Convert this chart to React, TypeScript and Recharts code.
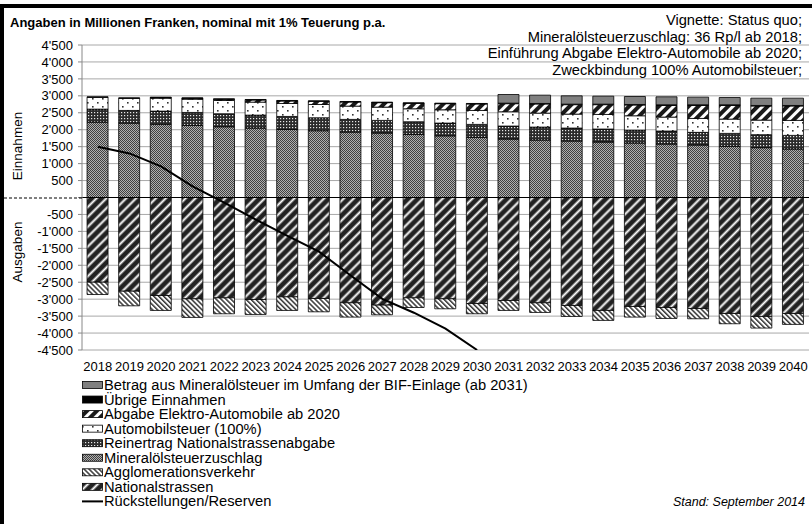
import React from 'react';
import { ComposedChart, Bar, Line, XAxis, YAxis, CartesianGrid, ReferenceLine } from 'recharts';

const years = [
  '2018', '2019', '2020', '2021', '2022', '2023', '2024', '2025', '2026', '2027', '2028', '2029',
  '2030', '2031', '2032', '2033', '2034', '2035', '2036', '2037', '2038', '2039', '2040',
];

// Einnahmen (positive, stacked bottom -> top)
const mineraloelZuschlag = [2225, 2196, 2157, 2127, 2088, 2049, 2010, 1971, 1931, 1902, 1863, 1820, 1775, 1725, 1696, 1667, 1637, 1608, 1578, 1549, 1510, 1471, 1431];
const reinertragNsa = [383, 373, 392, 383, 383, 382, 382, 382, 373, 373, 372, 376, 382, 383, 382, 382, 383, 382, 383, 373, 382, 382, 402];
const automobilsteuer = [348, 357, 382, 391, 391, 383, 383, 392, 392, 392, 383, 392, 412, 421, 412, 412, 431, 422, 412, 411, 422, 431, 442];
const abgabeElektro = [0, 0, 15, 25, 35, 63, 73, 93, 122, 132, 161, 181, 191, 240, 270, 279, 289, 318, 347, 387, 406, 417, 426];
const uebrigeEinnahmen = [15, 15, 15, 15, 15, 15, 15, 15, 15, 15, 15, 15, 15, 15, 15, 15, 15, 15, 15, 15, 15, 15, 15];
const betragBif = [0, 0, 0, 0, 0, 0, 0, 0, 0, 0, 0, 0, 0, 255, 245, 245, 235, 235, 236, 226, 216, 215, 215];

// Ausgaben (negative, stacked from 0 downwards)
const nationalstrassen = [-2500, -2765, -2892, -2990, -2961, -3010, -2931, -2980, -3108, -3176, -2961, -2990, -3127, -3039, -3108, -3186, -3333, -3216, -3245, -3275, -3422, -3510, -3422];
const agglomeration = [-363, -431, -441, -549, -470, -441, -402, -393, -421, -285, -284, -294, -304, -294, -284, -324, -294, -313, -324, -303, -303, -343, -323];

// Rückstellungen/Reserven (line)
const reserven = [1500, 1300, 920, 330, -150, -650, -1130, -1600, -2300, -2990, -3400, -3870, -4500, null, null, null, null, null, null, null, null, null, null];

const yTicks = [-4500, -4000, -3500, -3000, -2500, -2000, -1500, -1000, -500, 0, 500, 1000, 1500, 2000, 2500, 3000, 3500, 4000, 4500];

const data = years.map((year, i) => ({
  year,
  mineraloelZuschlag: mineraloelZuschlag[i],
  reinertragNsa: reinertragNsa[i],
  automobilsteuer: automobilsteuer[i],
  abgabeElektro: abgabeElektro[i],
  uebrigeEinnahmen: uebrigeEinnahmen[i],
  betragBif: betragBif[i],
  nationalstrassen: nationalstrassen[i],
  agglomeration: agglomeration[i],
  reserven: reserven[i],
}));

const FONT = '"Liberation Sans", Arial, sans-serif';

const formatTick = (v: number) => {
  if (v === 0) return '';
  const abs = Math.abs(v);
  const s = abs >= 1000 ? `${Math.floor(abs / 1000)}'${String(abs % 1000).padStart(3, '0')}` : String(abs);
  return v < 0 ? `-${s}` : s;
};

const Patterns = ({ p }: { p: string }) => (
  <defs>
    <pattern id={`${p}mz`} width="2" height="2" patternUnits="userSpaceOnUse">
      <rect width="2" height="2" fill="#b0b0b0" />
      <rect width="1" height="1" fill="#404040" />
      <rect x="1" y="1" width="1" height="1" fill="#404040" />
    </pattern>
    <pattern id={`${p}rn`} width="3" height="3" patternUnits="userSpaceOnUse">
      <rect width="3" height="3" fill="#2b2b2b" />
      <rect x="1" y="1" width="1.2" height="1.2" fill="#e8e8e8" />
    </pattern>
    <pattern id={`${p}as`} width="10" height="8" patternUnits="userSpaceOnUse">
      <rect width="10" height="8" fill="#fff" />
      <rect x="2" y="2" width="1.6" height="1.6" fill="#333" />
      <rect x="7" y="6" width="1.6" height="1.6" fill="#333" />
    </pattern>
    <pattern id={`${p}el`} width="7" height="7" patternUnits="userSpaceOnUse" patternTransform="rotate(45)">
      <rect width="7" height="7" fill="#fff" />
      <rect width="4" height="7" fill="#1a1a1a" />
    </pattern>
    <pattern id={`${p}ns`} width="7" height="7" patternUnits="userSpaceOnUse" patternTransform="rotate(45)">
      <rect width="7" height="7" fill="#222" />
      <rect x="4" width="1" height="7" fill="#999" />
      <rect x="5" width="1.3" height="7" fill="#fff" />
      <rect x="6.3" width="0.7" height="7" fill="#999" />
    </pattern>
    <pattern id={`${p}ag`} width="3.5" height="3.5" patternUnits="userSpaceOnUse" patternTransform="rotate(-45)">
      <rect width="3.5" height="3.5" fill="#fff" />
      <rect width="1.5" height="3.5" fill="#333" />
    </pattern>
  </defs>
);

const legendItems = [
  { label: 'Betrag aus Mineralölsteuer im Umfang der BIF-Einlage (ab 2031)', fill: '#808080' },
  { label: 'Übrige Einnahmen', fill: '#000' },
  { label: 'Abgabe Elektro-Automobile ab 2020', fill: 'el' },
  { label: 'Automobilsteuer (100%)', fill: 'as' },
  { label: 'Reinertrag Nationalstrassenabgabe', fill: 'rn' },
  { label: 'Mineralölsteuerzuschlag', fill: 'mz' },
  { label: 'Agglomerationsverkehr', fill: 'ag' },
  { label: 'Nationalstrassen', fill: 'ns' },
  { label: 'Rückstellungen/Reserven', fill: 'line' },
];

const infoLines = [
  'Vignette: Status quo;',
  'Mineralölsteuerzuschlag: 36 Rp/l ab 2018;',
  'Einführung Abgabe Elektro-Automobile ab 2020;',
  'Zweckbindung 100% Automobilsteuer;',
];

export default function App() {
  const barStroke = { stroke: '#000', strokeWidth: 0.8, isAnimationActive: false, stackId: 's' };
  return (
    <div style={{ position: 'absolute', left: 0, top: 0, width: 812, height: 524, background: '#fff', overflow: 'hidden', fontFamily: FONT }}>
      <ComposedChart
        width={812}
        height={380}
        data={data}
        stackOffset="sign"
        barCategoryGap="16%"
        margin={{ top: 45, right: 3, left: 0, bottom: 0 }}
      >
        <Patterns p="c" />
        <CartesianGrid horizontal vertical={false} stroke="#a8a8a8" />
        <XAxis
          dataKey="year"
          axisLine={false}
          tickLine={false}
          height={30}
          tickMargin={6}
          tick={{ fontSize: 13, fill: '#000', fontFamily: FONT }}
          interval={0}
        />
        <YAxis
          domain={[-4500, 4500]}
          ticks={yTicks}
          interval={0}
          allowDataOverflow
          width={82}
          tickFormatter={formatTick}
          axisLine={{ stroke: '#888' }}
          tickLine={{ stroke: '#888' }}
          tickSize={4}
          tickMargin={5}
          tick={{ fontSize: 13, fill: '#000', fontFamily: FONT }}
        />
        <Bar dataKey="mineraloelZuschlag" fill="url(#cmz)" {...barStroke} />
        <Bar dataKey="reinertragNsa" fill="url(#crn)" {...barStroke} />
        <Bar dataKey="automobilsteuer" fill="url(#cas)" {...barStroke} />
        <Bar dataKey="abgabeElektro" fill="url(#cel)" {...barStroke} />
        <Bar dataKey="uebrigeEinnahmen" fill="#000" {...barStroke} />
        <Bar dataKey="betragBif" fill="#808080" {...barStroke} />
        <Bar dataKey="nationalstrassen" fill="url(#cns)" {...barStroke} />
        <Bar dataKey="agglomeration" fill="url(#cag)" {...barStroke} />
        <ReferenceLine y={0} stroke="#000" strokeWidth={1.2} />
        <Line
          dataKey="reserven"
          type="linear"
          stroke="#000"
          strokeWidth={2}
          dot={false}
          isAnimationActive={false}
          connectNulls={false}
        />
      </ComposedChart>

      <svg width={812} height={524} style={{ position: 'absolute', left: 0, top: 0, pointerEvents: 'none' }}>
        <Patterns p="l" />
        <rect x={0} y={4} width={812} height={4} fill="#000" />
        <rect x={0} y={4} width={4} height={520} fill="#000" />
        <text x={10} y={27} fontSize={13} fontWeight="bold" fontFamily={FONT}>
          Angaben in Millionen Franken, nominal mit 1% Teuerung p.a.
        </text>
        {infoLines.map((t, i) => (
          <text key={t} x={802} y={25 + i * 16.7} fontSize={14.7} textAnchor="end" fontFamily={FONT}>
            {t}
          </text>
        ))}
        <line x1={4} x2={82} y1={198} y2={198} stroke="#000" strokeDasharray="3 2" />
        <text transform="translate(22,146) rotate(-90)" fontSize={13.5} textAnchor="middle" fontFamily={FONT}>
          Einnahmen
        </text>
        <text transform="translate(22,252) rotate(-90)" fontSize={13.5} textAnchor="middle" fontFamily={FONT}>
          Ausgaben
        </text>
        {legendItems.map((it, i) => {
          const cy = 385 + i * 14.55;
          return (
            <g key={it.label}>
              {it.fill === 'line' ? (
                <line x1={82} x2={103} y1={cy} y2={cy} stroke="#000" strokeWidth={2} />
              ) : (
                <rect
                  x={82.5}
                  y={cy - 3.5}
                  width={20}
                  height={7}
                  fill={it.fill.startsWith('#') ? it.fill : `url(#l${it.fill})`}
                  stroke="#000"
                  strokeWidth={0.8}
                />
              )}
              <text x={104} y={cy + 5} fontSize={14.7} fontFamily={FONT}>
                {it.label}
              </text>
            </g>
          );
        })}
        <text x={805} y={506} fontSize={12.5} fontStyle="italic" textAnchor="end" fontFamily={FONT}>
          Stand: September 2014
        </text>
      </svg>
    </div>
  );
}
